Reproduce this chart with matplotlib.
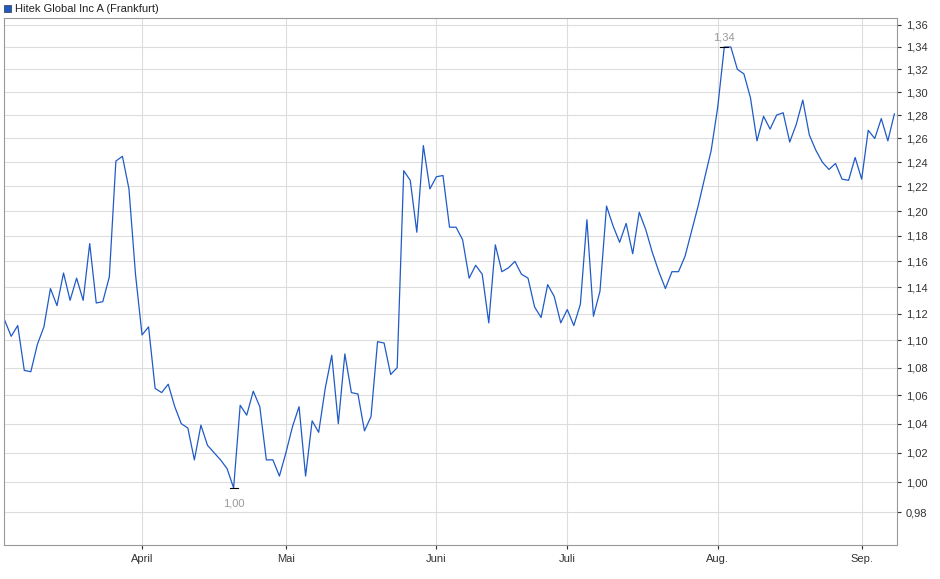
import matplotlib
matplotlib.use("Agg")
import matplotlib.pyplot as plt
from matplotlib.ticker import FixedLocator, FuncFormatter, NullLocator
import pandas as pd
import numpy as np

title = "Hitek Global Inc A (Frankfurt)"
values = [1.115,1.103,1.111,1.078,1.077,1.097,1.110,1.139,1.126,1.151,1.130,1.147,1.130,1.174,1.128,1.129,1.148,1.241,1.245,1.218,
1.150,1.104,1.110,1.065,1.062,1.068,1.052,1.040,1.037,1.015,1.039,1.025,1.020,1.015,1.009,0.996,1.053,1.046,1.063,1.052,
1.015,1.015,1.004,1.020,1.038,1.052,1.004,1.042,1.034,1.065,1.089,1.040,1.090,1.062,1.061,1.035,1.045,1.099,1.098,1.075,
1.080,1.233,1.225,1.183,1.254,1.218,1.228,1.229,1.187,1.187,1.177,1.147,1.157,1.150,1.113,1.173,1.152,1.155,1.160,1.150,
1.147,1.125,1.117,1.142,1.133,1.113,1.123,1.111,1.127,1.193,1.118,1.137,1.204,1.188,1.175,1.190,1.166,1.199,1.185,1.167,
1.152,1.139,1.152,1.152,1.164,1.184,1.204,1.227,1.250,1.287,1.340,1.340,1.320,1.316,1.295,1.258,1.279,1.268,1.280,1.282,
1.257,1.272,1.293,1.263,1.250,1.240,1.234,1.239,1.226,1.225,1.244,1.226,1.267,1.260,1.277,1.258,1.281]
dates = pd.bdate_range("2024-03-01", periods=len(values))
yticks = [0.98,1.00,1.02,1.04,1.06,1.08,1.10,1.12,1.14,1.16,1.18,1.20,1.22,1.24,1.26,1.28,1.30,1.32,1.34,1.36]
month_ticks = ["2024-04-01","2024-05-01","2024-06-03","2024-07-01","2024-08-01","2024-09-02"]
month_labels = ["April","Mai","Juni","Juli","Aug.","Sep."]

plt.rcParams['font.family'] = ['Liberation Sans', 'DejaVu Sans']
fig = plt.figure(figsize=(9.4,5.79), dpi=100)
ax = fig.add_axes([4/940, 1-545/579, 893/940, 527/579])
x = np.arange(len(values))
ax.plot(x, values, color="#1f5bc6", lw=0.9)
ax.set_yscale("log")
ax.set_ylim(0.9585, 1.3664)
ax.set_xlim(-0.1, len(values)-1+0.4)
ax.yaxis.set_major_locator(FixedLocator(yticks))
ax.yaxis.set_minor_locator(NullLocator())
ax.yaxis.set_major_formatter(FuncFormatter(lambda v,p: f"{v:.2f}".replace(".",",")))
ax.yaxis.tick_right()
xt = [dates.get_loc(pd.Timestamp(d)) for d in month_ticks]
ax.set_xticks(xt)
ax.set_xticklabels(month_labels)
ax.tick_params(labelsize=8, colors="#333333", length=3)
ax.grid(True, color="#dddddd", lw=0.8)
for s in ax.spines.values():
    s.set_color("#999999")
imax = int(np.argmax(values)); imin = int(np.argmin(values))
for i, off in [(imax, 7), (imin, -11)]:
    ax.plot([i-0.6, i+0.6], [values[i]]*2, color="black", lw=0.8)
    ax.annotate(f"{values[i]:.2f}".replace(".",","), (i, values[i]), xytext=(0, off), textcoords="offset points",
                ha="center", va="center", fontsize=8, color="#999999")
fig.patches.append(plt.Rectangle((4/940, 1-12/579), 7/940, 7/579, transform=fig.transFigure,
                                 facecolor="#1f5bc6", edgecolor="#333333", lw=0.5))
fig.text(15/940, 1-8.5/579, title, fontsize=8, va="center", color="#222222")
fig.savefig("out.png", dpi=100)
